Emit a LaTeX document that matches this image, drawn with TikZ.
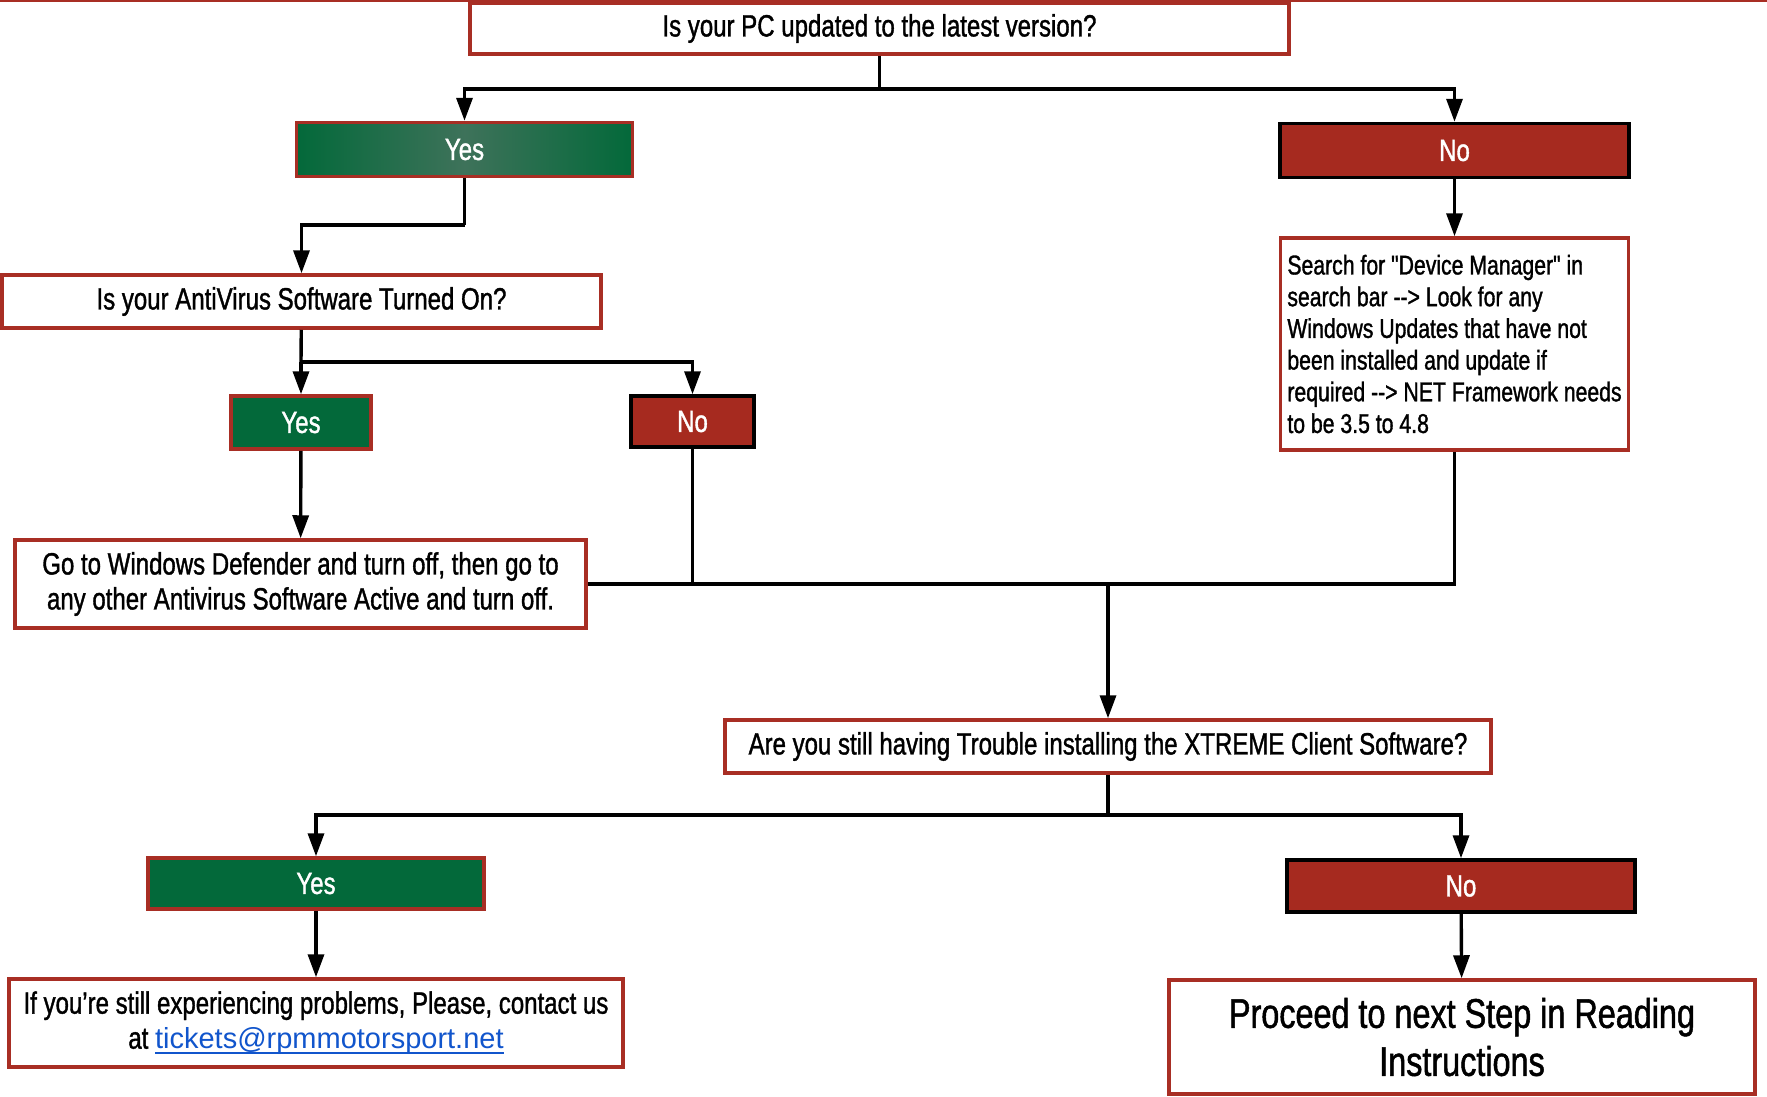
\documentclass[tikz,border=0pt]{standalone}
\usepackage{fontspec}
\setmainfont{Liberation Sans}[FakeStretch=0.78, FakeBold=1.2, Ligatures=TeXOff]
\newfontfamily\linkfont{Liberation Sans}
\usetikzlibrary{arrows.meta}
\definecolor{bred}{RGB}{168,46,36}
\definecolor{fred}{RGB}{166,42,31}
\definecolor{fgreen}{RGB}{3,105,58}
\definecolor{lgreen}{RGB}{62,114,90}
\definecolor{lblue}{RGB}{17,85,204}
\pgfdeclarehorizontalshading{yesshade}{100bp}{color(0bp)=(fgreen); color(25bp)=(fgreen); color(50bp)=(lgreen); color(75bp)=(fgreen); color(100bp)=(fgreen)}
\newcommand\myulink[1]{\setbox0\hbox{#1}\rlap{\raisebox{-5pt}{\rule{\wd0}{2pt}}}\box0}
\begin{document}
\begin{tikzpicture}[x=1pt,y=-1pt,
  box/.style={draw=bred, line width=3.5pt, fill=white, inner sep=0pt, align=center,
    font=\fontsize{30.8}{35}\selectfont},
  yesbox/.style={box, fill=fgreen, text=white},
  nobox/.style={box, draw=black, fill=fred, text=white},
  conn/.style={line width=3.4pt, draw=black},
  arr/.style={conn, -{Triangle[length=23pt,width=16pt]}},
]
\useasboundingbox (0,0) rectangle (1767,1096);
\draw[bred, line width=2pt] (0,1) -- (1767,1);

\node[box, minimum width=819pt, minimum height=51pt] (q1) at (879.5,28.5) {Is your PC updated to the latest version?};
\node[box, text=white, minimum width=336pt, minimum height=54pt, shading=yesshade] (yes1) at (464.5,149.5) {Yes};
\node[nobox, minimum width=349pt, minimum height=54pt] (no1) at (1454.5,150.5) {No};
\node[box, minimum width=348pt, minimum height=212pt, align=left, font=\fontsize{27.2}{31.7}\selectfont] (search) at (1454.5,344) {Search for "Device Manager" in\\search bar --> Look for any\\Windows Updates that have not\\been installed and update if\\required --> NET Framework needs\\to be 3.5 to 4.8};
\node[box, minimum width=599pt, minimum height=53pt] (av) at (301.5,301.5) {Is your AntiVirus Software Turned On?};
\node[yesbox, minimum width=140pt, minimum height=53pt] (yes2) at (301,422.5) {Yes};
\node[nobox, minimum width=123pt, minimum height=51pt] (no2) at (692.5,421.5) {No};
\node[box, minimum width=571pt, minimum height=88pt] (def) at (300.5,584) {Go to Windows Defender and turn off, then go to\\any other Antivirus Software Active and turn off.};
\node[box, minimum width=766pt, minimum height=53pt] (q3) at (1108,746.5) {Are you still having Trouble installing the XTREME Client Software?};
\node[yesbox, minimum width=336pt, minimum height=51pt] (yes3) at (316,883.5) {Yes};
\node[nobox, minimum width=348pt, minimum height=52pt] (no3) at (1461,886) {No};
\node[box, minimum width=614pt, minimum height=88pt] (contact) at (316,1023) {If you’re still experiencing problems, Please, contact us\\at {\linkfont\fontsize{29}{35}\selectfont\color{lblue}\myulink{tickets@rpmmotorsport.net}}};
\node[box, minimum width=586pt, minimum height=114pt, font=\fontsize{41.5}{48}\selectfont] (proceed) at (1462,1037) {Proceed to next Step in Reading\\Instructions};

\coordinate (j1) at (879.5,89);
\coordinate (j2) at (464.5,225);
\coordinate (j3) at (301,362);
\coordinate (j4) at (692.5,584);
\coordinate (j5) at (1108,584);
\coordinate (j6) at (1108,815);

\draw[conn] (q1) -- (j1);
\draw[arr] (j1) -| (yes1);
\draw[arr] (j1) -| (no1);
\draw[arr] (no1) -- (search);
\draw[conn] (yes1) -- (j2);
\draw[arr] (j2) -| (av);
\draw[conn] (av) -- (j3);
\draw[arr] (j3) -- (yes2);
\draw[arr] (j3) -| (no2);
\draw[arr] (yes2) -- (def);
\draw[conn] (no2) -- (j4);
\draw[conn] (def.east) -- (j5);
\draw[conn] (search) |- (j5);
\draw[arr] (j5) -- (q3);
\draw[conn] (q3) -- (j6);
\draw[arr] (j6) -| (yes3);
\draw[arr] (j6) -| (no3);
\draw[arr] (yes3) -- (contact);
\draw[arr] (no3) -- (proceed);
\end{tikzpicture}
\end{document}
